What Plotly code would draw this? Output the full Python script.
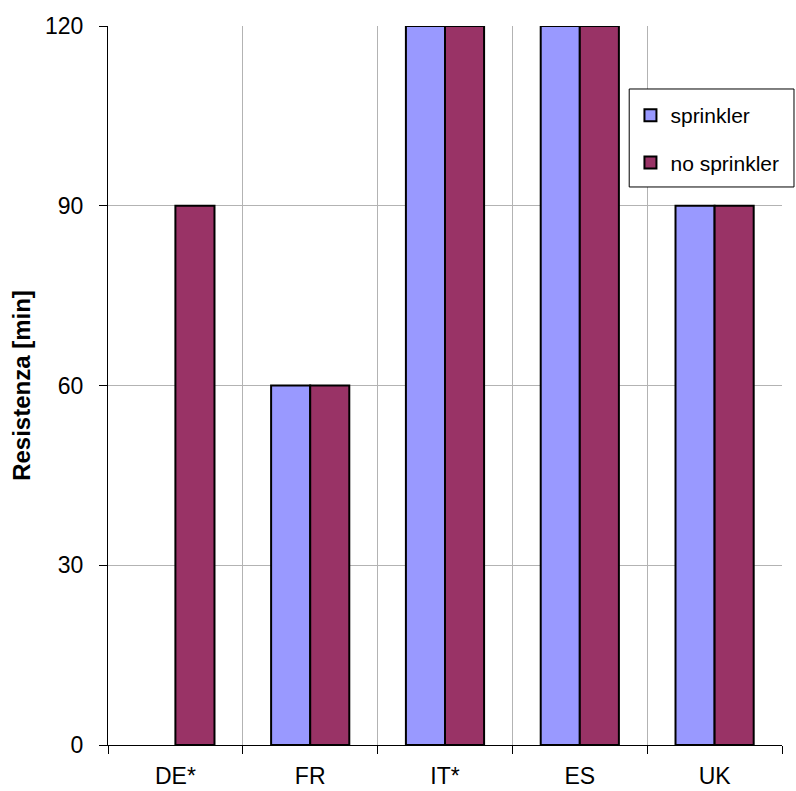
import plotly.graph_objects as go

# Fire resistance requirements by country
countries = ["DE*", "FR", "IT*", "ES", "UK"]
with_sprinkler = [None, 60, 120, 120, 90]
without_sprinkler = [90, 60, 120, 120, 90]
y_ticks = [0, 30, 60, 90, 120]

FONT = "Liberation Sans, Arial, sans-serif"

fig = go.Figure()
fig.add_trace(go.Bar(
    x=countries, y=with_sprinkler, name="sprinkler", legendgroup="a",
    marker=dict(color="#9999FF", line=dict(color="black", width=2)),
))
fig.add_trace(go.Bar(
    x=countries, y=without_sprinkler, name="no sprinkler", legendgroup="b",
    marker=dict(color="#993366", line=dict(color="black", width=2)),
))

# Framed box behind the legend entries
fig.add_shape(
    type="rect", xref="paper", yref="paper",
    x0=0.7733, x1=1.0178, y0=0.7761, y1=0.9124,
    fillcolor="white", line=dict(color="black", width=1), layer="above",
)

fig.update_layout(
    width=796, height=791,
    margin=dict(l=108, r=13, t=26, b=46),
    paper_bgcolor="white", plot_bgcolor="white",
    barmode="group", bargap=0.42, bargroupgap=0,
    font=dict(family=FONT, size=22, color="black"),
    showlegend=True,
    legend=dict(
        x=0.774, xanchor="left", y=0.9040, yanchor="top",
        borderwidth=0, bgcolor="rgba(0,0,0,0)",
        font=dict(size=21), tracegroupgap=17,
        itemwidth=30,
    ),
    xaxis=dict(
        type="category", tickson="boundaries", automargin=False,
        showgrid=True, gridcolor="#b3b3b3", gridwidth=1,
        showline=True, linecolor="black", linewidth=1,
        ticks="outside", ticklen=8, tickcolor="black",
        tickfont=dict(size=23), ticklabelstandoff=10,
        range=[-0.5, 4.5],
    ),
    yaxis=dict(
        range=[0, 120], tickvals=y_ticks,
        showgrid=True, gridcolor="#b3b3b3", gridwidth=1,
        showline=True, linecolor="black", linewidth=1,
        ticks="outside", ticklen=8, tickcolor="black",
        tickfont=dict(size=23), ticklabelstandoff=11,
        zeroline=False,
        title=dict(text="<b>Resistenza [min]</b>", font=dict(size=24), standoff=7),
    ),
)

fig.write_html("out.html")
